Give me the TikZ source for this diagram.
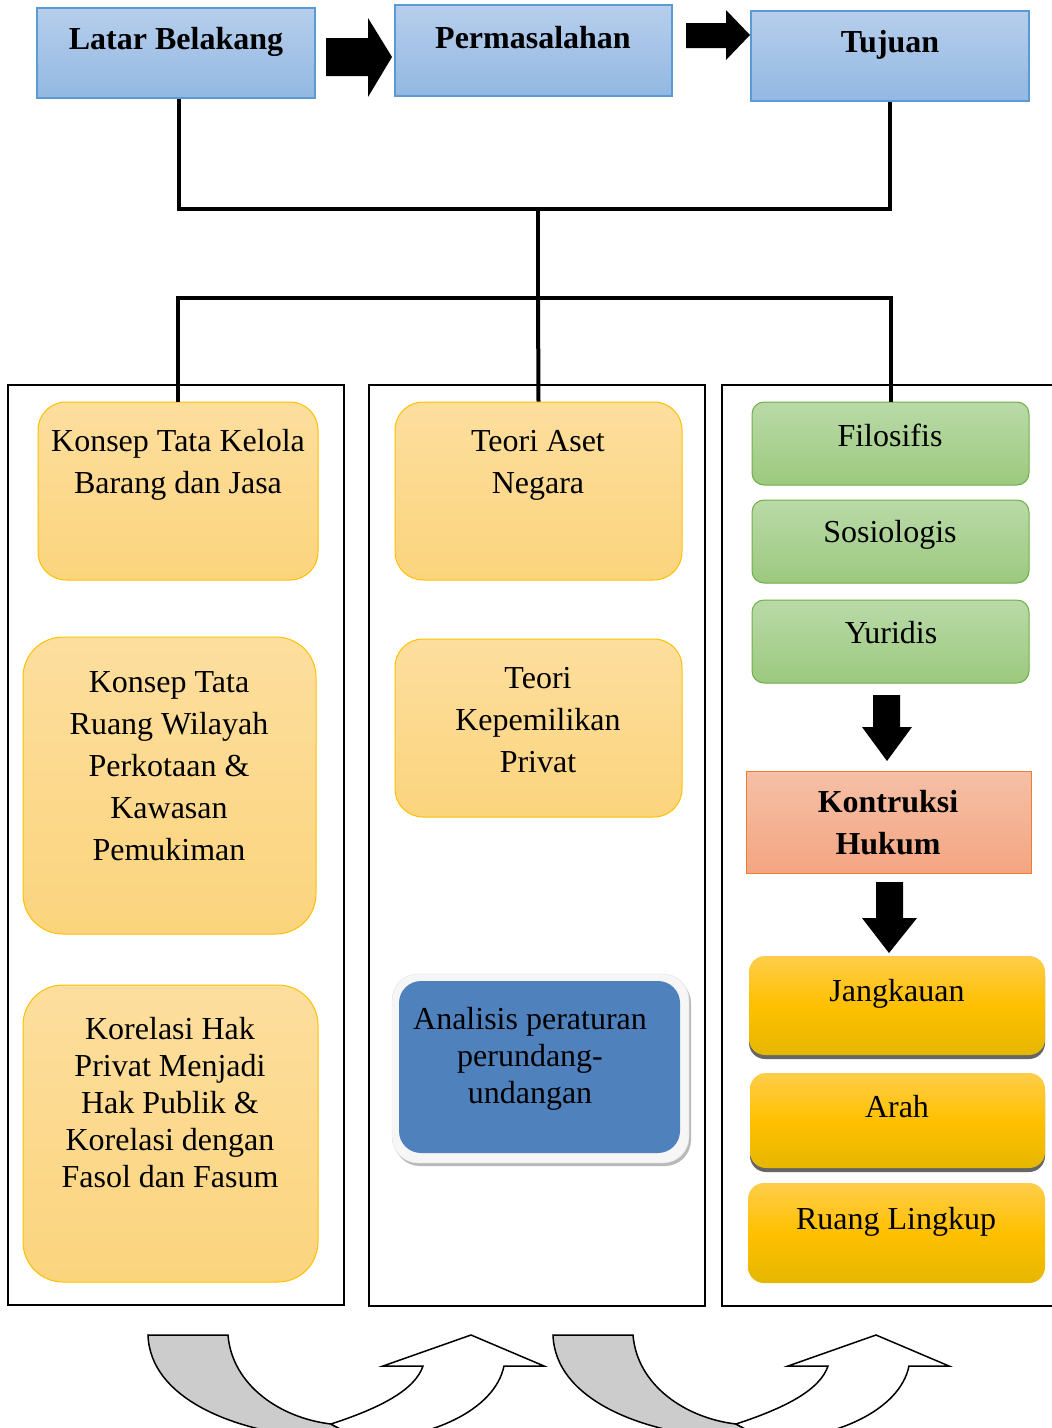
\documentclass[tikz,border=0pt]{standalone}
\usepackage{fontspec}
\setmainfont{Liberation Serif}
\usetikzlibrary{shadows}

\definecolor{judulatas}{RGB}{183,206,236}
\definecolor{judulbawah}{RGB}{146,184,226}
\definecolor{judulgaris}{RGB}{91,155,213}
\definecolor{jinggaatas}{RGB}{253,222,158}
\definecolor{jinggabawah}{RGB}{251,212,125}
\definecolor{jinggagaris}{RGB}{255,192,0}
\definecolor{hijauatas}{RGB}{185,218,168}
\definecolor{hijaubawah}{RGB}{156,201,126}
\definecolor{hijaugaris}{RGB}{112,173,71}
\definecolor{salmonatas}{RGB}{245,192,166}
\definecolor{salmonbawah}{RGB}{244,165,130}
\definecolor{salmongaris}{RGB}{237,125,49}
\definecolor{biruanalisis}{RGB}{79,129,189}
\definecolor{emasatas}{RGB}{255,205,75}
\definecolor{emastengah}{RGB}{255,192,0}
\definecolor{emasbawah}{RGB}{229,183,0}
\definecolor{abupanah}{RGB}{204,204,204}

\tikzset{
  kotakjudul/.style={draw=judulgaris, line width=1.5pt, top color=judulatas, bottom color=judulbawah},
  konsep/.style={draw=jinggagaris, line width=1pt, rounded corners=28pt, top color=jinggaatas, bottom color=jinggabawah},
  dasar/.style={draw=hijaugaris, line width=1pt, rounded corners=12pt, top color=hijauatas, bottom color=hijaubawah},
  capaian/.style={rounded corners=16pt, top color=emasatas, bottom color=emasbawah, middle color=emastengah},
  bayang/.style={drop shadow={shadow xshift=0pt, shadow yshift=-4pt, fill=black!60, opacity=1}},
  teks/.style={align=center, inner sep=0pt, font=\fontsize{32}{42}\selectfont},
  teksrapat/.style={align=center, inner sep=0pt, font=\fontsize{32}{37}\selectfont},
  judul/.style={align=center, inner sep=0pt, font=\fontsize{32}{42}\selectfont\bfseries},
  garis/.style={line width=4pt},
  kolom/.style={line width=2pt},
}

\begin{document}
\begin{tikzpicture}[x=1pt, y=-1pt]
\useasboundingbox (0,0) rectangle (1052,1428);

% kotak atas
\node [kotakjudul, minimum width=278pt, minimum height=90pt] (latar) at (176,53){};
\node [kotakjudul, minimum width=277pt, minimum height=91pt] (masalah) at (533.5,50.5){};
\node [kotakjudul, minimum width=278pt, minimum height=90pt] (tujuan) at (890,56){};
\node [judul] (latarT) at (176,42){Latar Belakang};
\node [judul] (masalahT) at (533,38){Permasalahan};
\node [judul] (tujuanT) at (890,45){Tujuan};
\fill (326,38) -- (368,38) -- (368,18) -- (392,57) -- (368,97) -- (368,76) -- (326,76) -- cycle;
\fill (686,23) -- (726,23) -- (726,10) -- (750,35) -- (726,60) -- (726,48) -- (686,48) -- cycle;

% tiga kolom
\draw [kolom] (8,385) rectangle (344,1305);
\draw [kolom] (369,385) rectangle (705,1306);
\draw [kolom] (1052,385) -- (722,385) -- (722,1306) -- (1052,1306);

% kolom kiri
\node [konsep, minimum width=280pt, minimum height=178pt] (kelola) at (178,491){};
\node [konsep, rounded corners=40pt, minimum width=293pt, minimum height=297pt] (ruang) at (169.5,785.5){};
\node [konsep, rounded corners=40pt, minimum width=295pt, minimum height=297pt] (korelasi) at (170.5,1133.5){};
\node [teks] (kelolaT) at (178,465){Konsep Tata Kelola\\Barang dan Jasa};
\node [teks] (ruangT) at (169,766){Konsep Tata\\Ruang Wilayah\\Perkotaan \&\\Kawasan\\Pemukiman};
\node [teksrapat] (korelasiT) at (170,1103){Korelasi Hak\\Privat Menjadi\\Hak Publik \&\\Korelasi dengan\\Fasol dan Fasum};

% kolom tengah
\node [konsep, minimum width=287pt, minimum height=178pt] (aset) at (538.5,491){};
\node [konsep, minimum width=287pt, minimum height=178pt] (privat) at (538.5,728){};
\node [fill=gray!7, draw=gray!25, rounded corners=26pt, minimum width=297pt, minimum height=189pt,
       drop shadow={shadow xshift=2pt, shadow yshift=-3pt, fill=gray!55, opacity=1}] (analisisL) at (540.5,1068.5){};
\node [fill=biruanalisis, rounded corners=22pt, minimum width=281pt, minimum height=172pt] (analisis) at (539.5,1067){};
\node [teks] (asetT) at (538,465){Teori Aset\\Negara};
\node [teks] (privatT) at (538,720){Teori\\Kepemilikan\\Privat};
\node [teksrapat] (analisisT) at (530,1059){Analisis peraturan\\perundang-\\undangan};

% kolom kanan
\node [dasar, minimum width=277pt, minimum height=83pt] (filosofis) at (890.5,443.5){};
\node [dasar, minimum width=277pt, minimum height=83pt] (sosiologis) at (890.5,541.5){};
\node [dasar, minimum width=277pt, minimum height=83pt] (yuridis) at (890.5,641.5){};
\node [teks] (filosofisT) at (890,435){Filosifis};
\node [teks] (sosiologisT) at (890,535){Sosiologis};
\node [teks] (yuridisT) at (891,633){Yuridis};
\fill (873,695) -- (900,695) -- (900,727) -- (912,727) -- (887,761) -- (862,727) -- (873,727) -- cycle;
\node [draw=salmongaris, line width=1pt, top color=salmonatas, bottom color=salmonbawah,
       minimum width=285pt, minimum height=102pt] (kontruksi) at (888.5,822){};
\node [judul] (kontruksiT) at (888,823){Kontruksi\\Hukum};
\fill (876,882) -- (903,882) -- (903,918) -- (917,918) -- (889,953) -- (862,918) -- (876,918) -- cycle;
\node [capaian, bayang, minimum width=296pt, minimum height=99pt] (jangkauan) at (897,1005.5){};
\node [capaian, bayang, minimum width=295pt, minimum height=95pt] (arah) at (897.5,1120.5){};
\node [capaian, minimum width=297pt, minimum height=100pt] (lingkup) at (896.5,1233){};
\node [teks] (jangkauanT) at (897,994){Jangkauan};
\node [teks] (arahT) at (897,1107){Arah};
\node [teks] (lingkupT) at (896,1222){Ruang Lingkup};

% garis penghubung
\coordinate (atas) at (538,209);
\coordinate (bawah) at (538,298);
\draw [garis] ([xshift=3pt]latar.south) |- (atas) -| (tujuan.south);
\draw [garis] (atas) -- (bawah);
\draw [garis] (kelola.north) |- (bawah) -| (filosofis.north);
\draw [garis] (bawah) -- (aset.north);

% panah lengkung bawah
\begin{scope}
\clip (0,0) rectangle (1052,1428);
\foreach \dx in {0,405}{
  \begin{scope}[xshift=\dx pt]
  \filldraw [fill=abupanah, line width=1.5pt] (148,1335) -- (228,1335) .. controls (232,1385) and (280,1418) .. (331,1424)
      -- (360,1440) .. controls (240,1440) and (150,1400) .. (148,1335) -- cycle;
  \filldraw [fill=white, line width=1.5pt] (331,1424) .. controls (380,1408) and (415,1390) .. (423,1366)
      -- (383,1366) -- (471,1335) -- (544,1366) -- (504,1366) .. controls (495,1410) and (430,1440) .. (360,1440) -- cycle;
  \end{scope}
}
\end{scope}
\end{tikzpicture}
\end{document}
